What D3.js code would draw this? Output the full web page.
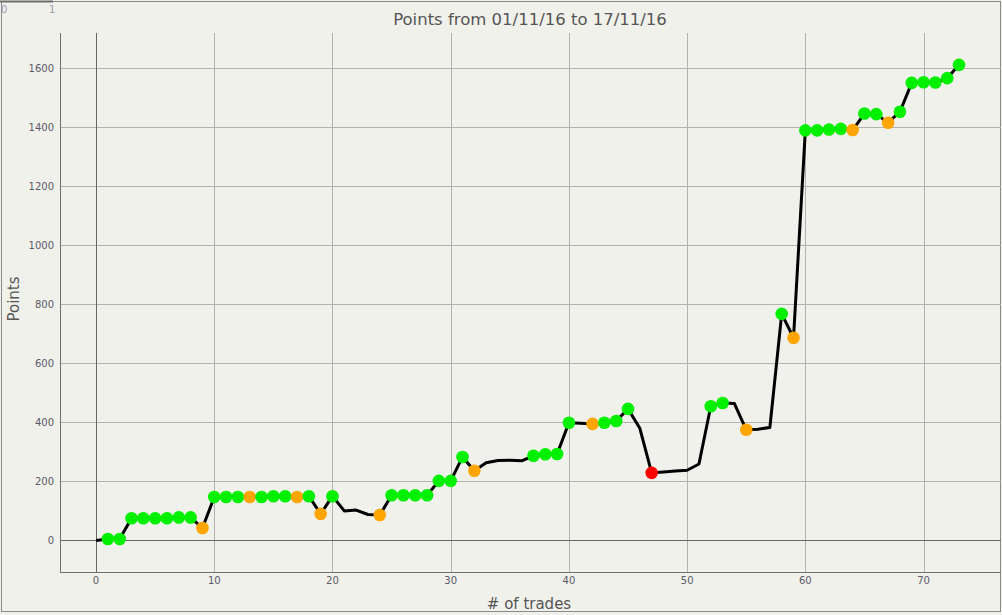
<!DOCTYPE html>
<html>
<head>
<meta charset="utf-8">
<script src="https://cdn.jsdelivr.net/npm/d3@7"></script>
<style>
  html, body { margin: 0; padding: 0; background: #f1f1eb; }
  svg { display: block; font-family: "DejaVu Sans", Verdana, sans-serif; }
</style>
</head>
<body>
<svg id="chart"></svg>
<script>
// cumulative points after each trade
const trades = d3.range(0, 74);
const points = [
    0, 5, 5, 75, 75, 75, 75, 78, 78, 42,
    147, 147, 147, 147, 147, 150, 150, 147, 150, 90,
    150, 100, 103, 88, 86, 153, 153, 153, 153, 202,
    202, 283, 236, 263, 271, 272, 270, 287, 292, 293,
    399, 397, 395, 399, 405, 446, 380, 229, 232, 235,
    238, 259, 455, 466, 464, 375, 377, 383, 768, 687,
    1390, 1390, 1393, 1395, 1391, 1447, 1445, 1416, 1453, 1551,
    1553, 1552, 1567, 1612
];
// marker per trade: g = win, o = small loss, r = big loss, '' = none
const status = [
    '', 'g', 'g', 'g', 'g', 'g', 'g', 'g', 'g', 'o',
    'g', 'g', 'g', 'o', 'g', 'g', 'g', 'o', 'g', 'o',
    'g', '', '', '', 'o', 'g', 'g', 'g', 'g', 'g',
    'g', 'g', 'o', '', '', '', '', 'g', 'g', 'g',
    'g', '', 'o', 'g', 'g', 'g', '', 'r', '', '',
    '', '', 'g', 'g', '', 'o', '', '', 'g', 'o',
    'g', 'g', 'g', 'g', 'o', 'g', 'g', 'o', 'g', 'g',
    'g', 'g', 'g', 'g'
];
const xTicks = [0, 10, 20, 30, 40, 50, 60, 70];
const yTicks = [0, 200, 400, 600, 800, 1000, 1200, 1400, 1600];

const svgWidth = 1002;
const svgHeight = 615;
const plot = { left: 60, top: 33, right: 1001, bottom: 572 };
const markerColor = { g: '#00f000', o: '#ffa500', r: '#ff0000' };

const svg = d3.select('#chart')
    .attr('width', svgWidth)
    .attr('height', svgHeight);

const x = d3.scaleLinear()
    .domain([-3.05, 76.55])
    .range([plot.left, plot.right]);

const y = d3.scaleLinear()
    .domain([-107, 1720])
    .range([plot.bottom, plot.top]);

// outer frame
svg.append('rect')
    .attr('x', 1.5)
    .attr('y', 1.5)
    .attr('width', 999)
    .attr('height', 610)
    .attr('fill', '#f1f1eb')
    .attr('stroke', '#8a8a8a')
    .attr('stroke-width', 1);

svg.append('line')
    .attr('x1', 0).attr('x2', 53)
    .attr('y1', 1.5).attr('y2', 1.5)
    .attr('stroke', '#6e6e6e')
    .attr('stroke-width', 2);

svg.selectAll('.corner')
    .data(['0', '1'])
    .enter().append('text')
    .attr('class', 'corner')
    .attr('x', (d, i) => i === 0 ? 1 : 49)
    .attr('y', 13)
    .attr('font-size', '10px')
    .attr('fill', '#a09cb0')
    .text(d => d);

// grid
svg.append('g')
    .selectAll('line')
    .data(xTicks.filter(d => d !== 0))
    .enter().append('line')
    .attr('x1', d => Math.round(x(d)) + 0.5)
    .attr('x2', d => Math.round(x(d)) + 0.5)
    .attr('y1', plot.top)
    .attr('y2', plot.bottom)
    .attr('stroke', '#b2b2b0');

svg.append('g')
    .selectAll('line')
    .data(yTicks.filter(d => d !== 0))
    .enter().append('line')
    .attr('x1', plot.left)
    .attr('x2', plot.right)
    .attr('y1', d => Math.round(y(d)) + 0.5)
    .attr('y2', d => Math.round(y(d)) + 0.5)
    .attr('stroke', '#b2b2b0');

// zero lines
svg.append('line')
    .attr('x1', Math.round(x(0)) + 0.5).attr('x2', Math.round(x(0)) + 0.5)
    .attr('y1', plot.top).attr('y2', plot.bottom)
    .attr('stroke', '#666');

svg.append('line')
    .attr('x1', plot.left).attr('x2', plot.right)
    .attr('y1', Math.round(y(0)) + 0.5).attr('y2', Math.round(y(0)) + 0.5)
    .attr('stroke', '#666');

// axis lines
svg.append('line')
    .attr('x1', plot.left + 0.5).attr('x2', plot.left + 0.5)
    .attr('y1', plot.top).attr('y2', plot.bottom)
    .attr('stroke', '#707070');

svg.append('line')
    .attr('x1', plot.left).attr('x2', plot.right)
    .attr('y1', plot.bottom + 0.5).attr('y2', plot.bottom + 0.5)
    .attr('stroke', '#707070');

// tick labels
svg.selectAll('.xlab')
    .data(xTicks)
    .enter().append('text')
    .attr('class', 'xlab')
    .attr('x', d => x(d))
    .attr('y', 584)
    .attr('text-anchor', 'middle')
    .attr('font-size', '10px')
    .attr('fill', '#5a5a68')
    .text(d => d);

svg.selectAll('.ylab')
    .data(yTicks)
    .enter().append('text')
    .attr('class', 'ylab')
    .attr('x', 54)
    .attr('y', d => y(d))
    .attr('dy', '.35em')
    .attr('text-anchor', 'end')
    .attr('font-size', '10px')
    .attr('fill', '#5a5a68')
    .text(d => d);

// titles
svg.append('text')
    .attr('x', 530)
    .attr('y', 25)
    .attr('text-anchor', 'middle')
    .attr('font-size', '16.5px')
    .attr('fill', '#555')
    .text('Points from 01/11/16 to 17/11/16');

svg.append('text')
    .attr('x', 529)
    .attr('y', 609)
    .attr('text-anchor', 'middle')
    .attr('font-size', '15px')
    .attr('fill', '#555')
    .text('# of trades');

svg.append('text')
    .attr('transform', 'translate(19, 299) rotate(-90)')
    .attr('text-anchor', 'middle')
    .attr('font-size', '15px')
    .attr('fill', '#555')
    .text('Points');

// series
const line = d3.line()
    .x((d, i) => x(trades[i]))
    .y(d => y(d));

svg.append('path')
    .datum(points)
    .attr('d', line)
    .attr('fill', 'none')
    .attr('stroke', '#000')
    .attr('stroke-width', 3)
    .attr('stroke-linejoin', 'round');

svg.append('g')
    .selectAll('circle')
    .data(trades.filter(i => status[i] !== ''))
    .enter().append('circle')
    .attr('cx', i => x(trades[i]))
    .attr('cy', i => y(points[i]))
    .attr('r', 6.3)
    .attr('fill', i => markerColor[status[i]]);
</script>
</body>
</html>
